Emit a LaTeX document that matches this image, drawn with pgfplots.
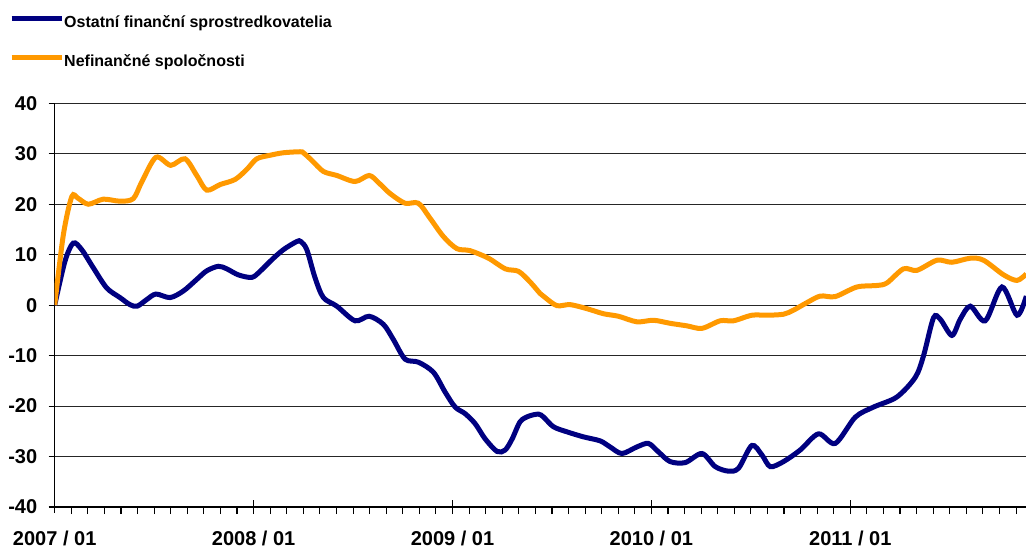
\documentclass[border=0pt]{standalone}
\usepackage{pgfplots}
\pgfplotsset{compat=1.18}
\usepackage{pgfplotstable}
\usepackage{fontspec}
\setmainfont{Liberation Sans}
\definecolor{navyline}{HTML}{000080}
\definecolor{orangeline}{HTML}{FF9900}

\pgfplotstableread{
m v
0 0
0.62 8.7
1.12 12.3
1.63 11.0
2.33 7.4
3.14 3.4
3.94 1.5
4.54 0.1
4.98 -0.2
5.55 1.1
6.11 2.2
6.96 1.5
7.76 2.8
8.57 5.1
9.17 6.8
9.87 7.7
10.38 7.2
11.08 6.0
11.89 5.5
12.39 6.7
13.10 9.0
13.80 11.0
14.60 12.6
14.85 12.6
15.21 11.0
15.71 5.4
16.21 1.5
17.02 -0.2
18.12 -3.1
18.97 -2.2
19.83 -3.8
20.43 -6.8
21.14 -10.7
21.94 -11.3
22.85 -13.3
23.55 -17.2
24.16 -20.2
24.76 -21.5
25.37 -23.5
25.97 -26.5
26.69 -29.0
27.18 -28.7
27.60 -26.5
28.08 -23.1
28.60 -22.0
29.19 -21.6
29.50 -22.2
30.09 -24.1
30.90 -25.1
31.90 -26.1
32.91 -26.9
33.51 -28.1
34.22 -29.4
35.12 -28.1
35.82 -27.4
36.43 -29.1
37.13 -31.0
38.04 -31.2
39.05 -29.4
39.85 -32.0
40.65 -32.9
41.26 -32.3
42.06 -27.8
42.67 -29.7
43.17 -32.0
43.97 -31.0
44.98 -28.7
46.08 -25.5
47.09 -27.4
48.30 -22.2
49.40 -20.2
50.81 -18.2
51.92 -14.3
52.42 -10.0
53.02 -2.5
53.43 -2.8
54.13 -6.0
54.63 -2.8
55.24 -0.2
56.14 -3.1
57.15 3.6
58.06 -2.0
58.62 1.8
}\ofi

\pgfplotstableread{
m v
0 0
0.52 13.9
1.03 21.5
1.40 21.2
2.03 20.0
2.93 21.0
3.94 20.6
4.74 21.1
5.25 24.4
6.11 29.3
7.00 27.7
7.86 29.0
8.57 25.7
9.17 22.8
9.98 23.9
10.88 24.9
11.59 26.9
12.19 29.0
12.99 29.7
13.80 30.2
14.80 30.4
15.00 30.2
15.51 28.7
16.21 26.5
17.02 25.7
18.12 24.5
18.97 25.7
19.53 24.3
20.24 22.1
21.14 20.2
21.94 20.2
22.65 17.2
23.45 13.6
24.26 11.2
25.06 10.8
26.17 9.3
27.18 7.2
27.98 6.7
28.68 4.6
29.29 2.3
29.59 1.5
30.30 -0.1
31.10 0.1
32.11 -0.7
33.11 -1.7
34.01 -2.2
35.12 -3.3
36.13 -3.0
37.13 -3.6
38.14 -4.1
39.05 -4.6
40.15 -3.1
40.95 -3.1
42.06 -2.0
42.97 -2.0
43.97 -1.8
44.57 -1.0
45.38 0.5
46.19 1.8
47.09 1.7
48.40 3.6
49.61 3.9
50.21 4.4
51.21 7.2
52.02 6.9
53.23 8.9
54.13 8.5
55.24 9.3
56.04 8.9
57.25 6.0
58.06 4.9
58.62 6.2
}\nef

\begin{document}
\begin{tikzpicture}
\begin{axis}[
  width=971.3pt, height=403.7pt, scale only axis,
  xmin=0, xmax=58.6, ymin=-40, ymax=40,
  axis lines*=left,
  axis line style={black, line width=1.4pt},
  xtick={0,12,24,36,48},
  xticklabels={2007 / 01, 2008 / 01, 2009 / 01, 2010 / 01, 2011 / 01},
  minor xtick={1,...,58},
  ytick={-40,-30,...,40},
  ymajorgrids,
  major grid style={black!85, line width=1.1pt},
  tick align=outside,
  major tick length=6pt, minor tick length=7pt,
  tick style={black, line width=1.1pt},
  extra x ticks={12,24,36,48},
  extra x tick labels={},
  extra x tick style={tick align=center, major tick length=13pt},
  tick label style={font=\fontsize{20}{24}\selectfont\bfseries},
  /pgf/number format/assume math mode=true,
  xticklabel style={yshift=-14pt},
  yticklabel style={anchor=east, xshift=-8pt},
  legend style={draw=none, fill=none, at={(-0.0501,1.2237)}, anchor=north west,
    font=\fontsize{16}{19}\selectfont\bfseries,
    nodes={inner sep=0pt, text height=12pt, text depth=4pt},
    row sep=23.3pt, column sep=0pt},
  legend cell align=left,
  legend image code/.code={\draw[#1] (0pt,4.5pt) -- (50pt,4.5pt);},
  clip=true,
]
\addplot[navyline, line width=5pt, smooth, tension=0.5] table[x=m,y=v]{\ofi};
\addlegendentry{Ostatní finanční sprostredkovatelia}
\addplot[orangeline, line width=5pt, smooth, tension=0.5] table[x=m,y=v]{\nef};
\addlegendentry{Nefinančné spoločnosti}
\coordinate (bl) at (rel axis cs:0,0);
\coordinate (tr) at (rel axis cs:1,1);
\end{axis}
\pgfresetboundingbox
\path ([xshift=-54.7pt,yshift=-42pt]bl) rectangle ([yshift=103.3pt]tr);
\end{tikzpicture}
\end{document}
